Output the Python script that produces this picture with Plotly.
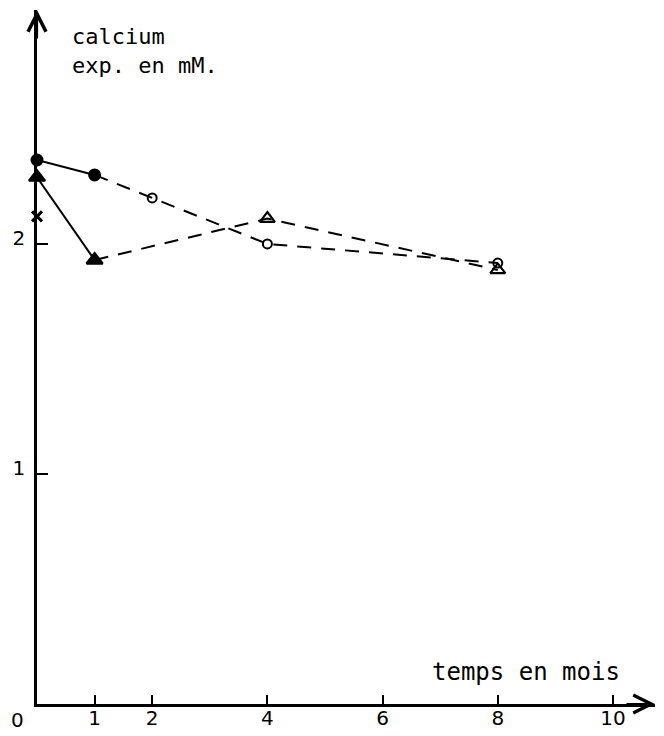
import plotly.graph_objects as go

# --- data ---
months_circle = [0, 1, 2, 4, 8]
calcium_circle = [2.365, 2.30, 2.20, 2.00, 1.917]
symbol_circle = ["circle", "circle", "circle-open", "circle-open", "circle-open"]

months_triangle = [0, 1, 4, 8]
calcium_triangle = [2.29, 1.93, 2.11, 1.887]
symbol_triangle = ["triangle-up", "triangle-up", "triangle-up-open", "triangle-up-open"]

months_cross = [0]
calcium_cross = [2.12]

x_ticks = [1, 2, 4, 6, 8, 10]
y_ticks = [1, 2]

INK = "black"
FONT = "DejaVu Sans"
TITLE_FONT = "DejaVu Sans Mono"
DASH = "14px,10px"

fig = go.Figure()

# circle series: solid first segment, dashed afterwards
fig.add_trace(go.Scatter(x=months_circle[:2], y=calcium_circle[:2], mode="lines",
                         line=dict(color=INK, width=2), hoverinfo="skip"))
fig.add_trace(go.Scatter(x=months_circle[1:], y=calcium_circle[1:], mode="lines",
                         line=dict(color=INK, width=2, dash=DASH), hoverinfo="skip"))
fig.add_trace(go.Scatter(x=months_circle, y=calcium_circle, mode="markers",
                         marker=dict(symbol=symbol_circle, size=[11, 11, 9, 9, 9], color=INK,
                                     opacity=1, line=dict(color=INK, width=2))))

# triangle series
fig.add_trace(go.Scatter(x=months_triangle[:2], y=calcium_triangle[:2], mode="lines",
                         line=dict(color=INK, width=2), hoverinfo="skip"))
fig.add_trace(go.Scatter(x=months_triangle[1:], y=calcium_triangle[1:], mode="lines",
                         line=dict(color=INK, width=2, dash=DASH), hoverinfo="skip"))
fig.add_trace(go.Scatter(x=months_triangle, y=calcium_triangle, mode="markers",
                         marker=dict(symbol=symbol_triangle, size=[14, 14, 13, 13], color=INK,
                                     opacity=1, line=dict(color=INK, width=2.2))))

# cross
fig.add_trace(go.Scatter(x=months_cross, y=calcium_cross, mode="markers",
                         marker=dict(symbol="x-thin", size=10, color=INK, opacity=1,
                                     line=dict(color=INK, width=3))))

for tr in fig.data:
    tr.cliponaxis = False

fig.update_layout(
    width=664, height=736,
    margin=dict(l=37, r=9, t=10, b=32, autoexpand=False),
    paper_bgcolor="white", plot_bgcolor="white",
    showlegend=False,
    font=dict(family=FONT, color=INK, size=20),
    xaxis=dict(range=[0, 10.73], tickvals=x_ticks, ticktext=[str(v) for v in x_ticks],
               ticks="inside", ticklen=9, tickwidth=2, tickcolor=INK, automargin=False,
               showline=True, linecolor=INK, linewidth=2.5, showgrid=False, zeroline=False,
               ticklabelstandoff=-6, tickfont=dict(size=20)),
    yaxis=dict(range=[0, 3.017], tickvals=y_ticks, ticktext=[str(v) for v in y_ticks],
               ticks="inside", ticklen=11, tickwidth=2, tickcolor=INK, automargin=False,
               showline=True, linecolor=INK, linewidth=2.5, showgrid=False, zeroline=False,
               ticklabelstandoff=5, ticklabelshift=-6, tickfont=dict(size=20)),
)

annotations = [
    # axis arrowheads
    dict(xref="paper", yref="paper", x=0, y=1, ax=0, ay=30, text="", showarrow=True,
         arrowhead=5, arrowsize=1.6, arrowwidth=2.2, arrowcolor=INK),
    dict(xref="paper", yref="paper", x=1, y=0, ax=-30, ay=0, text="", showarrow=True,
         arrowhead=5, arrowsize=1.6, arrowwidth=2.2, arrowcolor=INK),
    # origin label
    dict(xref="paper", yref="paper", x=0, y=0, xshift=-20, yshift=-16, text="0",
         xanchor="center", yanchor="middle", showarrow=False, font=dict(size=20)),
    # y-axis title
    dict(xref="paper", yref="paper", x=0, y=1, xshift=33, yshift=-41,
         text="calcium<br>exp. en mM.", showarrow=False, align="left",
         xanchor="left", yanchor="middle", font=dict(size=22, family=TITLE_FONT)),
    # x-axis title
    dict(xref="paper", yref="paper", x=1, y=0, xshift=-33, yshift=32,
         text="temps en mois", showarrow=False, xanchor="right", yanchor="middle",
         font=dict(size=24, family=TITLE_FONT)),
]
fig.update_layout(annotations=annotations)

fig.write_html("out.html", config={"displayModeBar": False},
               post_script="document.body.style.margin='0';")
